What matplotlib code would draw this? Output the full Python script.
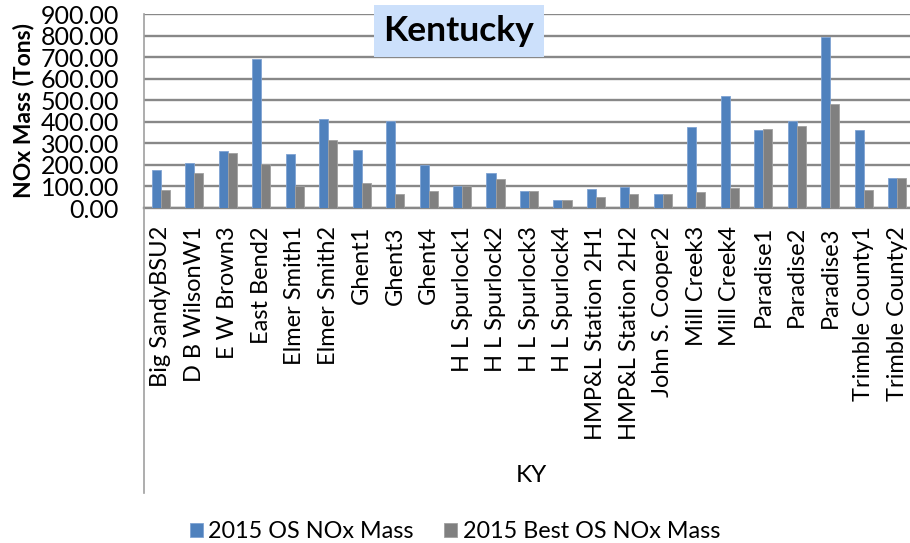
import matplotlib
matplotlib.use('Agg')
import matplotlib.pyplot as plt
import numpy as np
from matplotlib.lines import Line2D

plants = ['Big SandyBSU2', 'D B WilsonW1', 'E W Brown3', 'East Bend2',
          'Elmer Smith1', 'Elmer Smith2', 'Ghent1', 'Ghent3', 'Ghent4',
          'H L Spurlock1', 'H L Spurlock2', 'H L Spurlock3', 'H L Spurlock4',
          'HMP&L Station 2H1', 'HMP&L Station 2H2', 'John S. Cooper2',
          'Mill Creek3', 'Mill Creek4', 'Paradise1', 'Paradise2', 'Paradise3',
          'Trimble County1', 'Trimble County2']
os_mass = [175, 211, 265, 689, 250, 414, 271, 405, 200, 101, 163, 79, 39,
           88, 99, 63, 378, 521, 363, 405, 793, 361, 140]
best_mass = [85, 161, 253, 202, 101, 316, 118, 67, 79, 100, 133, 79, 36,
             51, 65, 63, 73, 93, 366, 382, 481, 85, 140]
yticks = np.arange(0, 901, 100)

plt.rcParams['font.family'] = ['Lato', 'DejaVu Sans']

fig = plt.figure(figsize=(9.1, 5.43), dpi=100)
ax = fig.add_axes([144 / 910, 1 - 208 / 543, 770 / 910, 194 / 543])

x = np.arange(len(plants))
w = 0.27
ax.bar(x - w / 2, os_mass, w, color='#4F81BD', edgecolor='#7fa3d3',
       linewidth=0.6, label='2015 OS NOx Mass', zorder=3)
ax.bar(x + w / 2, best_mass, w, color='#808080', edgecolor='#a0a0a0',
       linewidth=0.6, label='2015 Best OS NOx Mass', zorder=3)

ax.set_xlim(-0.5, len(plants) - 0.5)
ax.set_ylim(0, 900)
ax.set_yticks(yticks)
ax.set_yticklabels([f'{v:.2f}' for v in yticks], fontsize=18)
ax.yaxis.grid(True, color='#888888', linewidth=1.7, zorder=0)
ax.set_xticks(x)
ax.set_xticklabels(plants, rotation=90, fontsize=17)
ax.tick_params(length=0)
ax.tick_params(axis='y', pad=18)
ax.tick_params(axis='x', pad=13)
for s in ['top', 'right']:
    ax.spines[s].set_visible(False)
ax.spines['bottom'].set_color('#888888')
ax.spines['bottom'].set_linewidth(1.7)
ax.spines['left'].set_color('#a0a0a0')
ax.spines['left'].set_linewidth(1.2)

ax.set_ylabel('NOx Mass (Tons)', fontsize=16.5, fontweight='bold')
ax.yaxis.set_label_coords((34 - 144) / 770, 0.5)

# category axis line running down through the label area
fig.add_artist(Line2D([144 / 910, 144 / 910], [1 - 208 / 543, 1 - 493 / 543],
                      color='#a0a0a0', linewidth=1.2))

fig.text(531 / 910, 1 - 476 / 543, 'KY', fontsize=17.5, ha='center', va='center')

fig.text(459 / 910, 1 - 31 / 543, 'Kentucky', fontsize=25.5, fontweight='bold',
         ha='center', va='center',
         bbox=dict(facecolor='#cce0fb', edgecolor='none', pad=7))

fig.legend(loc='center', bbox_to_anchor=(455 / 910, 1 - 532 / 543), ncol=2,
           frameon=False, fontsize=16.8, handlelength=0.55, handleheight=0.55,
           columnspacing=1.3, handletextpad=0.25, borderpad=0.1)

fig.savefig('out.png', dpi=100)
